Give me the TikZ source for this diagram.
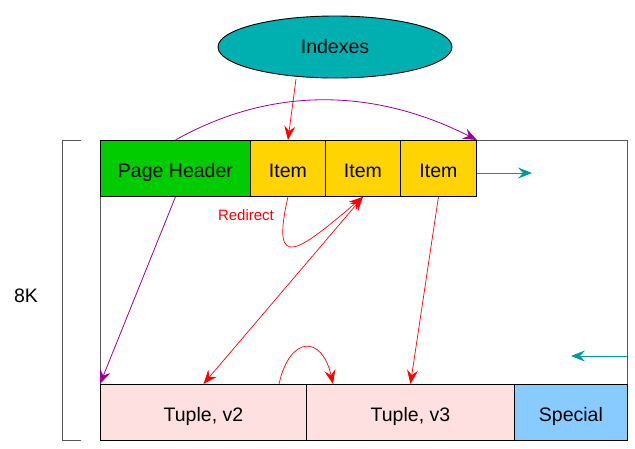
\documentclass[tikz,border=0pt]{standalone}
\usepackage{fontspec}
\setmainfont{Liberation Sans}
\usetikzlibrary{arrows.meta,shapes.geometric}
\definecolor{hdrgreen}{HTML}{00CC00}
\definecolor{itemyellow}{HTML}{FFD400}
\definecolor{tuplepink}{HTML}{FFE0E0}
\definecolor{specialblue}{HTML}{88CCFF}
\definecolor{idxteal}{HTML}{00B0B0}
\definecolor{arrowteal}{HTML}{009999}
\definecolor{arrowpurple}{HTML}{990099}
\definecolor{framegray}{HTML}{555555}
\tikzset{
  cell/.style={draw=black, line width=0.9pt, anchor=north west, inner sep=0pt,
    font=\fontsize{19.5}{21}\selectfont, text height=19pt, text depth=0pt},
  tip/.style={-{Stealth[length=14pt,width=11pt,inset=5pt]}},
  redarrow/.style={draw=red, line width=0.7pt, tip},
  purplearrow/.style={draw=arrowpurple, line width=0.8pt, tip},
  tealarrow/.style={draw=arrowteal, line width=0.8pt, tip},
}
\begin{document}
\begin{tikzpicture}[x=1pt,y=-1pt]
\useasboundingbox (0,0) rectangle (635,448);
% page frame
\node[draw=framegray, line width=0.9pt, anchor=north west, minimum width=527pt, minimum height=300pt, inner sep=0pt] (page) at (100,140) {};
% bracket
\draw[framegray, line width=0.9pt] (81,140) -- (62,140) -- (62,440) -- (81,440);
\node[font=\fontsize{19.5}{21}\selectfont] (size) at (26,296) {8K};
% header row
\node[cell, fill=hdrgreen, minimum width=150pt, minimum height=56pt] (ph) at (100,140) {Page Header};
\node[cell, fill=itemyellow, minimum width=75pt, minimum height=56pt] (i1) at (250,140) {Item};
\node[cell, fill=itemyellow, minimum width=75pt, minimum height=56pt] (i2) at (325,140) {Item};
\node[cell, fill=itemyellow, minimum width=76pt, minimum height=56pt] (i3) at (400,140) {Item};
% tuple row
\node[cell, fill=tuplepink, minimum width=206pt, minimum height=56pt] (t2) at (100,384) {Tuple, v2};
\node[cell, fill=tuplepink, minimum width=208pt, minimum height=56pt] (t3) at (306,384) {Tuple, v3};
\node[cell, fill=specialblue, minimum width=113pt, minimum height=56pt] (sp) at (514,384) {Special};
% indexes
\node[ellipse, draw=black, line width=0.9pt, fill=idxteal, minimum width=234pt, minimum height=62pt, inner sep=0pt,
  font=\fontsize{19.5}{21}\selectfont] (idx) at (335,47) {Indexes};
% coordinates
\coordinate (idxout) at (296,79);
\coordinate (freeend) at (532,173);
\coordinate (frees) at (571,356);
\coordinate (pagein) at (627,356);
\coordinate (hopstart) at (279,384);
\coordinate (hopend) at (333,384);
% connectors
\draw[redarrow] (idxout) -- (i1.north);
\draw[purplearrow] (ph.north) .. controls (270,87) and (372,87) .. (i3.north east);
\draw[purplearrow] (ph.south) -- (t2.north west);
\draw[redarrow] (i1.south) .. controls (270,275) and (300,250) .. (i2.south);
\node[text=red, font=\fontsize{15}{17}\selectfont] (redir) at (246,215) {Redirect};
\draw[draw=red, line width=0.7pt, {Stealth[length=14pt,width=11pt,inset=5pt]}-{Stealth[length=14pt,width=11pt,inset=5pt]}] (t2.north) -- (i2.south);
\draw[redarrow] (i3.south) -- (t3.north);
\draw[redarrow] (hopstart) .. controls (290,335) and (322,335) .. (hopend);
\draw[tealarrow] (i3.east |- freeend) -- (freeend);
\draw[tealarrow] (pagein) -- (frees);
\end{tikzpicture}
\end{document}
